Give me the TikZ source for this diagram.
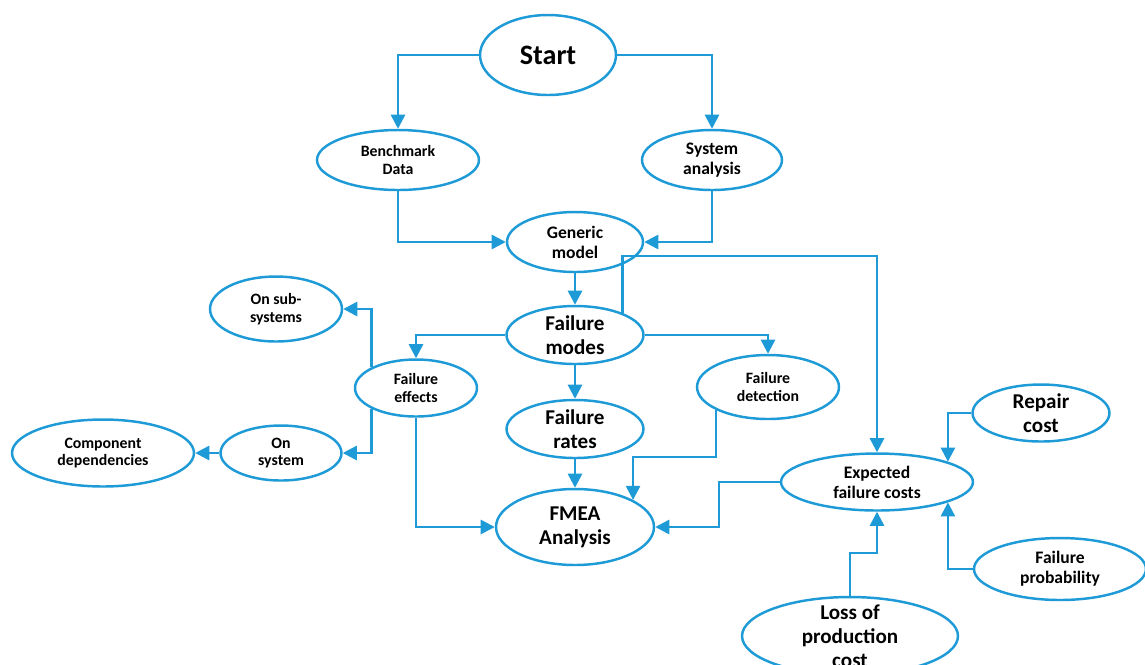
\documentclass[tikz,border=0pt]{standalone}
\usepackage{fontspec}
\setmainfont{Carlito}
\usetikzlibrary{shapes.geometric,arrows.meta}
\definecolor{flowblue}{RGB}{30,155,215}
\tikzset{
  bubble/.style={ellipse, draw=flowblue, line width=1.4pt, inner sep=0pt},
  link/.style={draw=flowblue, line width=1.4pt, -{Triangle[length=8pt,width=8pt]}},
  hugetxt/.style={font=\fontsize{16}{19}\selectfont\bfseries},
  bigtxt/.style={align=center, font=\fontsize{12}{13.6}\selectfont\bfseries},
  midtxt/.style={align=center, font=\fontsize{10}{11.3}\selectfont\bfseries},
  smalltxt/.style={align=center, font=\fontsize{9}{10.1}\selectfont\bfseries},
}

\begin{document}
\begin{tikzpicture}[x=0.02cm, y=-0.02cm]
\useasboundingbox (0,0) rectangle (1145,664);
%start
\node[bubble, minimum width=2.72cm, minimum height=1.6cm] (start) at (548,55) {};
\node[hugetxt] (start-t) at (start) {Start};
%inputs
\node[bubble, minimum width=3.24cm, minimum height=1.2cm] (bench) at (398,160) {};
\node[smalltxt] (bench-t) at (bench) {Benchmark\\Data};
\node[bubble, minimum width=2.8cm, minimum height=1.2cm] (sys) at (712,160) {};
\node[midtxt] (sys-t) at (sys) {System\\analysis};
\node[bubble, minimum width=2.72cm, minimum height=1.2cm] (gen) at (575,242) {};
\node[midtxt] (gen-t) at (gen) {Generic\\model};
%failure modes
\node[bubble, minimum width=2.74cm, minimum height=1.16cm] (modes) at (575,335) {};
\node[bigtxt] (modes-t) at (modes) {Failure\\modes};
\node[bubble, minimum width=2.74cm, minimum height=1.16cm] (rates) at (575,429) {};
\node[bigtxt] (rates-t) at (rates) {Failure\\rates};
\node[bubble, minimum width=2.84cm, minimum height=1.28cm] (detect) at (768,387) {};
\node[smalltxt] (detect-t) at (detect) {Failure\\detection};
\node[bubble, minimum width=3.16cm, minimum height=1.52cm] (fmea) at (575,527) {};
\node[bigtxt] (fmea-t) at (fmea) {FMEA\\Analysis};
%effects
\node[bubble, minimum width=2.44cm, minimum height=1.14cm] (effects) at (416,388) {};
\node[smalltxt] (effects-t) at (effects) {Failure\\effects};
\node[bubble, minimum width=2.64cm, minimum height=1.3cm] (onsub) at (276,309) {};
\node[smalltxt] (onsub-t) at (onsub) {On sub-\\systems};
\node[bubble, minimum width=2.42cm, minimum height=1.1cm] (onsys) at (281,453) {};
\node[smalltxt] (onsys-t) at (onsys) {On\\system};
\node[bubble, minimum width=3.64cm, minimum height=1.34cm] (comp) at (103,453) {};
\node[smalltxt] (comp-t) at (comp) {Component\\dependencies};
%costs
\node[bubble, minimum width=3.84cm, minimum height=1.14cm] (cost) at (877,482) {};
\node[midtxt] (cost-t) at (cost) {Expected\\failure costs};
\node[bubble, minimum width=2.74cm, minimum height=1.14cm] (repair) at (1041,413) {};
\node[bigtxt] (repair-t) at (repair) {Repair\\cost};
\node[bubble, minimum width=3.44cm, minimum height=1.24cm] (prob) at (1060,569) {};
\node[midtxt] (prob-t) at (prob) {Failure\\probability};
\node[bubble, minimum width=4.32cm, minimum height=1.56cm] (loss) at (850,636) {};
\node[bigtxt] (loss-t) at (850,636) {Loss of\\production\\cost};
%bends
\coordinate (toprun) at (0,256);
\coordinate (dstep) at (0,457);
\coordinate (cstep) at (719,0);
\coordinate (lstep) at (0,553);
%links
\draw[link] (start.west) -| (bench.north);
\draw[link] (start.east) -| (sys.north);
\draw[link] (bench.south) |- (gen.west);
\draw[link] (sys.south) |- (gen.east);
\draw[link] (gen.south) -- (modes.north);
\draw[link] (modes.25) -- (modes.25 |- toprun) -| (cost.north);
\draw[link] (modes.west) -| (effects.north);
\draw[link] (modes.east) -| (detect.north);
\draw[link] (modes.south) -- (rates.north);
\draw[link] (effects.155) |- (onsub.east);
\draw[link] (effects.205) |- (onsys.east);
\draw[link] (onsys.west) -- (comp.east);
\draw[link] (effects.south) |- (fmea.west);
\draw[link] (rates.south) -- (fmea.north);
\draw[link] (detect.204) -- (detect.204 |- dstep) -| (fmea.25);
\draw[link] (cost.west) -| (cstep |- fmea.east) -- (fmea.east);
\draw[link] (repair.west) -| (cost.16);
\draw[link] (prob.west) -| (cost.-16);
\draw[link] (loss.north) |- (cost.south |- lstep) -- (cost.south);
\end{tikzpicture}
\end{document}
